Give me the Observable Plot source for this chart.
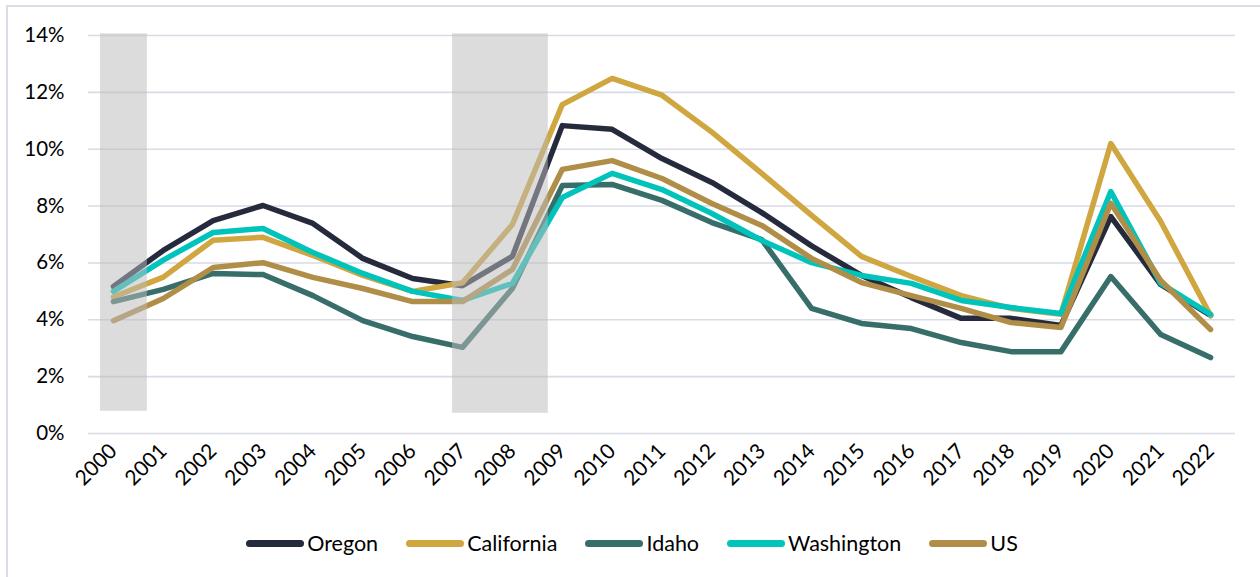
<!DOCTYPE html>
<html>
<head>
<meta charset="utf-8">
<script src="https://cdn.jsdelivr.net/npm/d3@7"></script>
<script src="https://cdn.jsdelivr.net/npm/@observablehq/plot@0.6"></script>
<style>
  html, body { margin: 0; padding: 0; background: #fff; width: 1260px; height: 577px; overflow: hidden; }
  #frame { position: absolute; left: 6px; top: 5px; width: 1400px; height: 800px; border-left: 2px solid #dadce6; border-top: 2px solid #dadce6; box-sizing: border-box; }
  #chart { position: absolute; left: 0; top: 0; }
  #legend { position: absolute; left: 0; top: 523px; width: 1264px; height: 40px; display: flex; justify-content: center; align-items: center; font-family: Lato, "Open Sans", sans-serif; font-size: 21.5px; color: #000; }
  .item { display: flex; align-items: center; margin: 0 14px; }
  .sw { width: 58px; height: 7px; border-radius: 4px; margin-right: 3px; }
</style>
</head>
<body>
<div id="frame"></div>
<div id="chart"></div>
<div id="legend"></div>
<script>
const years = [2000,2001,2002,2003,2004,2005,2006,2007,2008,2009,2010,2011,2012,2013,2014,2015,2016,2017,2018,2019,2020,2021,2022];
const seriesNames = ["Oregon","California","Idaho","Washington","US"];
const seriesColors = ["#262a3d","#cfa63f","#376e6a","#00c4bc","#b08e47"];
const oregon     = [5.17,6.44,7.49,8.02,7.39,6.16,5.45,5.20,6.23,10.83,10.70,9.67,8.83,7.77,6.60,5.56,4.78,4.05,4.05,3.80,7.63,5.24,4.15];
const california = [4.80,5.50,6.80,6.90,6.26,5.56,5.00,5.30,7.35,11.57,12.49,11.90,10.60,9.15,7.67,6.23,5.52,4.85,4.40,4.19,10.20,7.46,4.15];
const idaho      = [4.64,5.07,5.63,5.59,4.85,3.97,3.41,3.03,5.10,8.72,8.76,8.20,7.42,6.82,4.40,3.87,3.69,3.20,2.88,2.88,5.52,3.48,2.67];
const washington = [5.00,6.10,7.07,7.21,6.37,5.63,5.00,4.68,5.28,8.30,9.15,8.58,7.74,6.79,6.01,5.56,5.28,4.68,4.43,4.22,8.51,5.28,4.19];
const us         = [3.97,4.75,5.84,6.01,5.49,5.10,4.64,4.64,5.77,9.29,9.60,8.97,8.09,7.32,6.16,5.31,4.85,4.40,3.90,3.73,8.10,5.38,3.66];
const yTicks = [0,2,4,6,8,10,12,14];
const recessionStart = [1999.74, 2006.80];
const recessionEnd   = [2000.68, 2008.72];
const recessionLow   = [0.78, 0.71];
const recessionHigh  = [14.06, 14.06];

const seriesValues = [oregon, california, idaho, washington, us];
const rows = [];
seriesNames.forEach((name, si) => {
  years.forEach((yr, i) => rows.push({series: name, year: yr, value: seriesValues[si][i]}));
});
const bands = recessionStart.map((s, i) => ({x1: s, x2: recessionEnd[i], y1: recessionLow[i], y2: recessionHigh[i]}));

const chart = Plot.plot({
  width: 1260,
  height: 510,
  marginLeft: 88,
  marginRight: 25,
  marginTop: 35,
  marginBottom: 77,
  style: { fontFamily: "Lato, 'Open Sans', sans-serif", fontSize: "20px", color: "#000", background: "transparent" },
  x: { type: "linear", domain: [1999.5, 2022.5] },
  y: { domain: [0, 14] },
  color: { domain: seriesNames, range: seriesColors },
  marks: [
    Plot.ruleY(yTicks, { stroke: "#d9dbe6", strokeWidth: 1.6 }),
    ...seriesNames.map(name => Plot.line(rows.filter(r => r.series === name), {
      x: "year", y: "value", stroke: "series", strokeWidth: 5.5,
      strokeLinejoin: "round", strokeLinecap: "round"
    })),
    Plot.rect(bands, { x1: "x1", x2: "x2", y1: "y1", y2: "y2", fill: "#bcbcbc", fillOpacity: 0.52 }),
    Plot.axisY({ ticks: yTicks, tickSize: 0, tickPadding: 24, tickFormat: d => d + "%", fontSize: 20.5 }),
    Plot.axisX({ ticks: years, tickSize: 0, tickPadding: 14, tickRotate: -45, tickFormat: d => String(d), fontSize: 21 })
  ]
});
document.getElementById("chart").appendChild(chart);

const legend = document.getElementById("legend");
seriesNames.forEach((name, i) => {
  const item = document.createElement("div");
  item.className = "item";
  const sw = document.createElement("span");
  sw.className = "sw";
  sw.style.background = seriesColors[i];
  const lab = document.createElement("span");
  lab.textContent = name;
  item.appendChild(sw);
  item.appendChild(lab);
  legend.appendChild(item);
});
</script>
</body>
</html>
